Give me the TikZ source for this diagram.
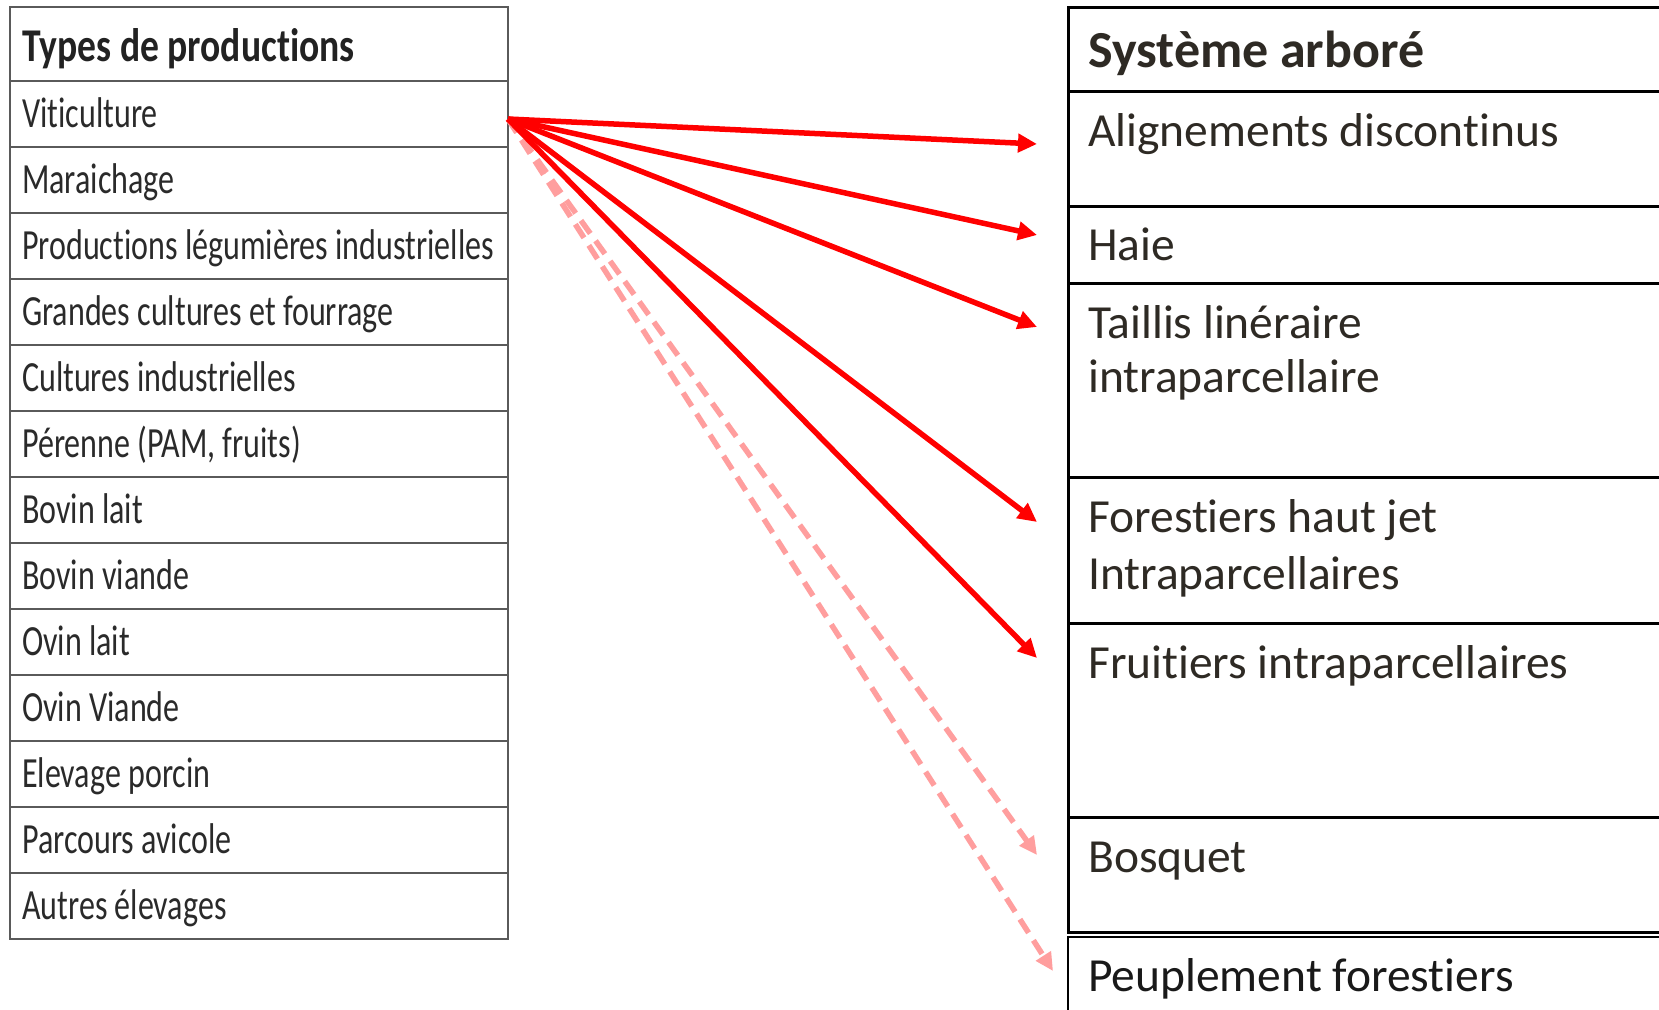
\documentclass[tikz,border=0pt]{standalone}
\usepackage{fontspec}
\setmainfont{Carlito}[RawFeature={-liga;-clig;-calt;-dlig}]
\newfontfamily\condfont{Carlito}[FakeStretch=0.745,RawFeature={-liga;-clig;-calt;-dlig}]
\newfontfamily\condbold{Carlito}[FakeStretch=0.8,RawFeature={-liga;-clig;-calt;-dlig}]
\usetikzlibrary{arrows.meta}
\definecolor{lgrid}{HTML}{5A5A5A}
\definecolor{ltext}{HTML}{2A2A2A}
\definecolor{rtext}{HTML}{2E2A24}
\definecolor{arrowred}{HTML}{FF0000}
\definecolor{dashpink}{HTML}{FF9E9E}
\begin{document}
\begin{tikzpicture}[x=1pt,y=-1pt,
  lcell/.style={draw=lgrid,line width=2pt,rectangle,anchor=north west,minimum width=498pt,inner sep=0pt,outer sep=0pt},
  rcell/.style={draw=black,line width=3pt,rectangle,anchor=north west,minimum width=700pt,inner sep=0pt,outer sep=0pt},
  ltxt/.style={anchor=base west,inner sep=0pt,text=ltext,font=\condfont\fontsize{43}{50}\selectfont},
  lhead/.style={anchor=base west,inner sep=0pt,text=ltext!80!black,font=\condbold\bfseries\fontsize{47}{54}\selectfont},
  rtxt/.style={anchor=base west,inner sep=0pt,text=rtext,font=\fontsize{47.5}{55}\selectfont},
  rhead/.style={anchor=base west,inner sep=0pt,text=rtext,font=\bfseries\fontsize{52}{60}\selectfont},
  solidarrow/.style={draw=arrowred,line width=5.5pt,-{Triangle[length=19pt,width=18pt]}},
  dasharrow/.style={draw=dashpink,line width=5.5pt,dash pattern=on 16pt off 9pt,-{Triangle[length=18pt,width=17pt]}}
]
\useasboundingbox (0,0) rectangle (1659,1009);
\fill[white] (0,0) rectangle (1659,1009);
\clip (0,0) rectangle (1659,1009);

% ---------- left table ----------
\node[lcell,minimum height=74pt] (lh) at (10,7) {};
\foreach \i/\nm in {0/vit,1/mar,2/plg,3/gcf,4/cui,5/per,6/bol,7/bov,8/ovl,9/ovv,10/elp,11/pav,12/aue}{
  \node[lcell,minimum height=66pt] (\nm) at (10,{81+66*\i}) {};
}
\node[lhead] (lhT) at (22,61) {Types de productions};
\node[ltxt] (vitT) at (22,127) {Viticulture};
\node[ltxt] (marT) at (22,193) {Maraichage};
\node[ltxt] (plgT) at (22,259) {Productions légumières industrielles};
\node[ltxt] (gcfT) at (22,325) {Grandes cultures et fourrage};
\node[ltxt] (cuiT) at (22,391) {Cultures industrielles};
\node[ltxt] (perT) at (22,457) {Pérenne (PAM, fruits)};
\node[ltxt] (bolT) at (22,523) {Bovin lait};
\node[ltxt] (bovT) at (22,589) {Bovin viande};
\node[ltxt] (ovlT) at (22,655) {Ovin lait};
\node[ltxt] (ovvT) at (22,721) {Ovin Viande};
\node[ltxt] (elpT) at (22,787) {Elevage porcin};
\node[ltxt] (pavT) at (22,853) {Parcours avicole};
\node[ltxt] (aueT) at (22,919) {Autres élevages};

% ---------- right table ----------
\node[rcell,minimum height=84pt] (rh) at (1068,7) {};
\node[rcell,minimum height=115pt] (ali) at (1068,91) {};
\node[rcell,minimum height=77pt] (hai) at (1068,206) {};
\node[rcell,minimum height=194pt] (tai) at (1068,283) {};
\node[rcell,minimum height=146pt] (for) at (1068,477) {};
\node[rcell,minimum height=194pt] (fru) at (1068,623) {};
\node[rcell,minimum height=115pt] (bos) at (1068,817) {};
\node[rcell,line width=2pt,minimum height=120pt] (peu) at (1068,937) {};

\node[rhead] (rhT) at (1088,67) {Système arboré};
\node[rtxt] (aliT) at (1088,146) {Alignements discontinus};
\node[rtxt] (haiT) at (1088,260) {Haie};
\node[rtxt] (taiT) at (1088,338) {Taillis linéraire};
\node[rtxt] (taiT2) at (1088,392) {intraparcellaire};
\node[rtxt] (forT) at (1088,532) {Forestiers haut jet};
\node[rtxt] (forT2) at (1088,589) {Intraparcellaires};
\node[rtxt] (fruT) at (1088,678) {Fruitiers intraparcellaires};
\node[rtxt] (bosT) at (1088,872) {Bosquet};
\node[rtxt,text=black!90] (peuT) at (1088,991) {Peuplement forestiers};

% ---------- connectors ----------
\coordinate (src) at (508,119);
\coordinate (t1) at (1037,144);
\coordinate (t2) at (1037,235);
\coordinate (t3) at (1037,327);
\coordinate (t4) at (1037,522);
\coordinate (t5) at (1037,658);
\coordinate (t6) at (1037,855);
\coordinate (t7) at (1053,971);

\draw[dasharrow] (src) -- (t7);
\draw[dasharrow] (src) -- (t6);
\draw[solidarrow] (src) -- (t1);
\draw[solidarrow] (src) -- (t2);
\draw[solidarrow] (src) -- (t3);
\draw[solidarrow] (src) -- (t4);
\draw[solidarrow] (src) -- (t5);
\end{tikzpicture}
\end{document}
